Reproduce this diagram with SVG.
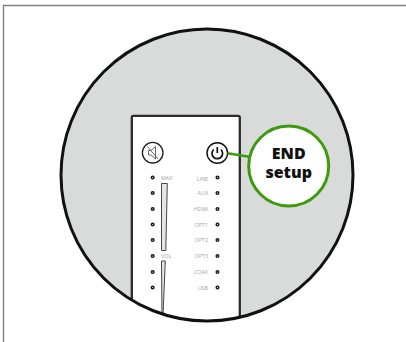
<svg xmlns="http://www.w3.org/2000/svg" width="406" height="342" viewBox="0 0 406 342">
<defs>
<style>
.led{fill:#fff;stroke:#1c1c1c;stroke-width:1.500}
.lb{font-family:"Open Sans","Liberation Sans",sans-serif;font-size:5.400px;fill:#a2a2a2}
.big{font-family:"Open Sans","Liberation Sans",sans-serif;font-size:16px;font-weight:800;fill:#111;text-anchor:middle}
.bar{fill:#e4e5e4;stroke:#333;stroke-width:.9}
</style>
<clipPath id="c"><circle cx="207" cy="175" r="146"/></clipPath>
</defs>
<rect width="406" height="342" fill="#fff"/>
<path id="frame" d="M3.500 342V5.500H406" fill="none" stroke="#808080" stroke-width="1.400"/>
<circle id="lens" cx="207" cy="175" r="146" fill="#d9dbda"/>
<g id="panel" clip-path="url(#c)">
<rect x="131.800" y="115.800" width="108" height="230" rx="1.500" fill="#fff" stroke="#2a2a2a" stroke-width="2.300"/>
<path class="bar" d="M161.500 183.500H167.300L165.800 250.500H161.500Z"/>
<path class="bar" d="M161.500 261H165.300L162.800 320H162Z"/>
<g class="led">
<circle cx="152.700" cy="177.500" r="1.300"/><circle cx="152.700" cy="193" r="1.300"/><circle cx="152.700" cy="209" r="1.300"/><circle cx="152.700" cy="224.500" r="1.300"/><circle cx="152.700" cy="240" r="1.300"/><circle cx="152.700" cy="256" r="1.300"/><circle cx="152.700" cy="272" r="1.300"/><circle cx="152.700" cy="287.500" r="1.300"/>
<circle cx="217.500" cy="177.500" r="1.300"/><circle cx="217.500" cy="193" r="1.300"/><circle cx="217.500" cy="209" r="1.300"/><circle cx="217.500" cy="224.500" r="1.300"/><circle cx="217.500" cy="240" r="1.300"/><circle cx="217.500" cy="256" r="1.300"/><circle cx="217.500" cy="272" r="1.300"/><circle cx="217.500" cy="287.500" r="1.300"/>
</g>
<text class="lb" x="161" y="179.500">MAX</text>
<text class="lb" x="161" y="258">VOL</text>
<g text-anchor="end">
<text class="lb" x="208" y="181">LINE</text>
<text class="lb" x="208" y="195">AUX</text>
<text class="lb" x="208" y="211">HDMI</text>
<text class="lb" x="208" y="226.500">OPT1</text>
<text class="lb" x="208" y="242">OPT2</text>
<text class="lb" x="208" y="258">OPT3</text>
<text class="lb" x="208" y="274">COAX</text>
<text class="lb" x="208" y="289.500">USB</text>
</g>
</g>
<circle id="lens-rim" cx="207" cy="175" r="146" fill="none" stroke="#111" stroke-width="3"/>
<g id="mute">
<circle cx="152.700" cy="152.700" r="10.300" fill="#fff" stroke="#222" stroke-width="1.300"/>
<path d="M148.500 150.500H151L155.500 146.500V159L151 155H148.500Z M147.500 146.500L158 159" fill="none" stroke="#666" stroke-width="1"/>
</g>
<g id="power">
<circle cx="217.300" cy="153" r="10.300" fill="#fff" stroke="#111" stroke-width="1.400"/>
<path d="M213.700 149.500A5.300 5.300 0 1 0 220.900 149.500M217.300 147V153" fill="none" stroke="#111" stroke-width="1.700"/>
</g>
<g id="connectors">
<line x1="227.500" y1="153.300" x2="249" y2="156.800" stroke="#3d9a0c" stroke-width="2.400"/>
</g>
<g id="end-setup">
<circle cx="288.700" cy="166" r="40" fill="#fff" stroke="#3d9a0c" stroke-width="3"/>
<text class="big" x="288.700" y="159.300">END</text>
<text class="big" x="288.700" y="177.500">setup</text>
</g>
</svg>
